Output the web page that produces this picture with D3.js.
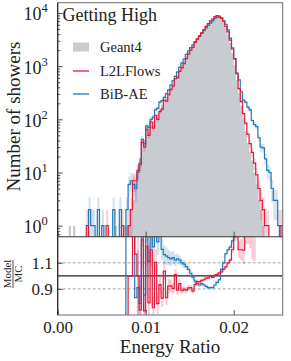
<!DOCTYPE html>
<html>
<head>
<meta charset="utf-8">
<script src="https://cdn.jsdelivr.net/npm/d3@7"></script>
<style>
  body { margin: 0; background: #fff; }
  svg text { font-family: "Liberation Serif", "Times New Roman", serif; fill: #222; }
</style>
</head>
<body>
<div id="chart"></div>
<script>
// histogram binning (energy ratio)
var binStart = 0,
	binWidth = 0.00025;

// counts per bin
var geant4 = [
	0, 0, 0, 0, 0, 1, 0, 1, 0, 0,
	0, 0, 0, 0, 0, 0, 0, 0, 0, 0,
	0, 0, 0, 0, 0, 0, 1, 0, 0, 0,
	1, 1, 1, 2, 3, 6, 11, 19, 29, 41,
	53, 63, 75, 90, 107, 127, 150, 187, 222, 264,
	315, 390, 465, 575, 685, 850, 1050, 1250, 1550, 1850,
	2200, 2550, 3000, 3400, 3900, 4400, 5000, 5700, 6400, 7100,
	7800, 8500, 8800, 8500, 7700, 6500, 5200, 4000, 2750, 1750,
	1050, 550, 315, 180, 107, 61, 36, 24, 17, 10,
	6, 3, 2, 1, 0, 0, 0, 0, 0, 0,
	0, 0, 0
];
var l2lflows = [
	0, 0, 0, 0, 0, 0, 0, 0, 0, 0,
	0, 0, 0, 1, 0, 0, 0, 0, 0, 0,
	0, 0, 1, 0, 0, 0, 0, 0, 0, 1,
	0, 0, 1, 2, 7, 7, 11, 14, 37, 30,
	65, 50, 90, 68, 118, 100, 140, 155, 230, 220,
	290, 360, 420, 580, 610, 800, 930, 1120, 1380, 1680,
	2000, 2250, 2800, 3250, 3720, 4250, 4850, 5600, 6300, 7100,
	7700, 8550, 8900, 8700, 7930, 6830, 5560, 4400, 3080, 2100,
	1365, 726, 378, 216, 128, 85, 52, 35, 24, 15,
	9, 5, 3, 2, 1, 1, 0, 0, 0, 0,
	0, 1, 0
];
var bibae = [
	0, 0, 0, 0, 0, 0, 0, 0, 0, 0,
	0, 0, 0, 0, 2, 1, 1, 0, 2, 0,
	1, 0, 0, 0, 0, 2, 0, 0, 2, 0,
	0, 2, 6, 7, 6, 5, 10, 15, 42, 35,
	75, 70, 100, 110, 150, 160, 210, 225, 258, 304,
	359, 441, 530, 644, 774, 952, 1155, 1363, 1659, 1943,
	2244, 2525, 2880, 3196, 3627, 4136, 4650, 5244, 5824, 6461,
	7098, 7905, 8360, 8245, 8085, 7150, 6080, 4800, 3355, 2220,
	1390, 740, 550, 330, 230, 210, 170, 150, 95, 80,
	73, 45, 30, 29, 18, 11, 10, 5, 3, 3,
	1, 0, 0
];

var legendLabels = ["Geant4", "L2LFlows", "BiB-AE"];
var xTickValues = [0, 0.01, 0.02];
var yTickExponents = [0, 1, 2, 3, 4];
var ratioTickValues = [0.9, 1.1];
var ratioGuides = [0.9, 1.0, 1.1];
var titleText = "Getting High";

var svgWidth = 291,
	svgHeight = 361,
	left = 57.7,
	right = 282.7,
	mainTop = 2.7,
	mainBottom = 236.7,
	ratioBottom = 315,
	colors = {
		geant4: "#c8cbcf",
		l2l: "#e41a3c",
		bib: "#2378b8"
	};

var svg = d3.select("#chart")
	.append("svg")
	.attr("width", svgWidth)
	.attr("height", svgHeight);

var x = d3.scaleLinear().domain([0, 0.02557]).range([left, right]);
var y = d3.scaleLog().domain([Math.pow(10, -0.207), Math.pow(10, 4.193)]).range([mainBottom, mainTop]);
var yr = d3.scaleLinear().domain([0.7, 1.3]).range([ratioBottom, mainBottom]);

var defs = svg.append("defs");
defs.append("clipPath").attr("id", "clipMain")
	.append("rect")
	.attr("x", left).attr("y", mainTop)
	.attr("width", right - left).attr("height", mainBottom - mainTop);
defs.append("clipPath").attr("id", "clipRatio")
	.append("rect")
	.attr("x", left).attr("y", mainBottom)
	.attr("width", right - left).attr("height", ratioBottom - mainBottom);

function edge(i) {
	return x(binStart + i * binWidth);
}

// step outline, null values break the line
function stepPath(vals, yf) {
	var p = "", prev = null, i, v, yy;
	for (i = 0; i < vals.length; ++i) {
		v = vals[i];
		if (v === null) {
			prev = null;
			continue;
		}
		yy = yf(v);
		if (prev === null) {
			p += "M" + edge(i) + "," + yy;
		} else {
			p += "V" + yy;
		}
		p += "H" + edge(i + 1);
		prev = yy;
	}
	return p;
}

function yMain(v) {
	return v > 0 ? y(v) : mainBottom + 10;
}

// ---------- main panel ----------
var mainG = svg.append("g").attr("clip-path", "url(#clipMain)");

mainG.append("path")
	.attr("d", stepPath(geant4, yMain) + "V" + (mainBottom + 10) + "H" + edge(0) + "Z")
	.style("fill", colors.geant4)
	.style("stroke", "none");

function bands(g, vals, color, op) {
	g.append("g").selectAll("rect")
		.data(vals.map(function(v, i) { return { v: v, i: i }; }).filter(function(d) { return d.v > 0; }))
		.enter()
		.append("rect")
		.attr("x", function(d) { return edge(d.i); })
		.attr("width", function(d) { return edge(d.i + 1) - edge(d.i); })
		.attr("y", function(d) { return y(d.v + Math.sqrt(d.v)); })
		.attr("height", function(d) {
			var lo = d.v - Math.sqrt(d.v);
			return (lo > 0 ? y(lo) : mainBottom + 10) - y(d.v + Math.sqrt(d.v));
		})
		.style("fill", color)
		.style("opacity", op);
}

bands(mainG, bibae, colors.bib, 0.2);
bands(mainG, l2lflows, colors.l2l, 0.2);

mainG.append("path")
	.attr("d", stepPath(bibae, yMain))
	.style("fill", "none")
	.style("stroke", colors.bib)
	.style("stroke-width", 1.2);
mainG.append("path")
	.attr("d", stepPath(l2lflows, yMain))
	.style("fill", "none")
	.style("stroke", colors.l2l)
	.style("stroke-width", 1.2);

// ---------- ratio panel ----------
var ratioG = svg.append("g").attr("clip-path", "url(#clipRatio)");

ratioGuides.forEach(function(r) {
	ratioG.append("line")
		.attr("x1", left).attr("x2", right)
		.attr("y1", yr(r)).attr("y2", yr(r))
		.style("stroke", r === 1 ? "#222" : "#999")
		.style("stroke-width", r === 1 ? 1.1 : 0.9)
		.style("stroke-dasharray", r === 1 ? null : "3,2");
});

function ratioOf(model) {
	return model.map(function(m, i) {
		return geant4[i] > 0 ? m / geant4[i] : null;
	});
}

// model stat. error only, for bins with enough entries
function ratioBands(vals, color) {
	var data = vals.map(function(m, i) {
		var g = geant4[i], r, e;
		if (g < 10 || m < 10) { return null; }
		r = m / g;
		e = Math.sqrt(m) / g;
		return { i: i, lo: r - e, hi: r + e };
	}).filter(function(d) { return d !== null; });
	ratioG.append("g").selectAll("rect")
		.data(data)
		.enter()
		.append("rect")
		.attr("x", function(d) { return edge(d.i); })
		.attr("width", function(d) { return edge(d.i + 1) - edge(d.i); })
		.attr("y", function(d) { return Math.max(yr(d.hi), mainBottom - 5); })
		.attr("height", function(d) {
			return Math.max(0, Math.min(yr(d.lo), ratioBottom + 5) - Math.max(yr(d.hi), mainBottom - 5));
		})
		.style("fill", color)
		.style("opacity", 0.22);
}

function yRatio(v) {
	return Math.max(Math.min(yr(v), ratioBottom + 10), mainBottom - 10);
}

ratioBands(bibae, colors.bib);
ratioBands(l2lflows, colors.l2l);

ratioG.append("path")
	.attr("d", stepPath(ratioOf(bibae), yRatio))
	.style("fill", "none")
	.style("stroke", colors.bib)
	.style("stroke-width", 1.2);
ratioG.append("path")
	.attr("d", stepPath(ratioOf(l2lflows), yRatio))
	.style("fill", "none")
	.style("stroke", colors.l2l)
	.style("stroke-width", 1.2);

// ---------- axes ----------
var minorY = [];
yTickExponents.concat([-1]).forEach(function(e) {
	for (var k = 2; k < 10; ++k) {
		var v = k * Math.pow(10, e);
		if (v > y.domain()[0] && v < y.domain()[1]) { minorY.push(v); }
	}
});

svg.append("g")
	.attr("transform", "translate(" + left + ",0)")
	.call(d3.axisLeft(y).tickValues(minorY).tickSize(-2.5).tickFormat(""))
	.call(function(g) { g.select(".domain").remove(); });

var yAxisG = svg.append("g")
	.attr("transform", "translate(" + left + ",0)")
	.call(d3.axisLeft(y)
		.tickValues(yTickExponents.map(function(e) { return Math.pow(10, e); }))
		.tickSize(-5)
		.tickFormat(""))
	.call(function(g) { g.select(".domain").remove(); });

yAxisG.selectAll(".tick text").remove();
yAxisG.selectAll(".tick").each(function(d) {
	var t = d3.select(this).append("text")
		.attr("x", -10)
		.attr("y", 7)
		.attr("text-anchor", "end")
		.style("font-size", "18px");
	t.append("tspan").text("10");
	t.append("tspan")
		.attr("dy", -8)
		.style("font-size", "12.5px")
		.text(Math.round(Math.log10(d)));
});

svg.append("g")
	.attr("transform", "translate(" + left + ",0)")
	.call(d3.axisLeft(yr).tickValues(ratioTickValues).tickSize(-5).tickPadding(5)
		.tickFormat(d3.format(".1f")))
	.call(function(g) {
		g.select(".domain").remove();
		g.selectAll("text").style("font-size", "17px").attr("dy", "0.34em");
	});

svg.append("g")
	.attr("transform", "translate(0," + ratioBottom + ")")
	.call(d3.axisBottom(x).tickValues(xTickValues).tickSize(-5).tickPadding(6)
		.tickFormat(d3.format(".2f")))
	.call(function(g) {
		g.select(".domain").remove();
		g.selectAll("text").style("font-size", "17px");
	});

svg.append("g")
	.attr("transform", "translate(0," + mainBottom + ")")
	.call(d3.axisBottom(x).tickValues(xTickValues).tickSize(-5).tickFormat(""))
	.call(function(g) { g.select(".domain").remove(); });

svg.selectAll(".tick line").style("stroke", "#222").style("stroke-width", 0.8);

// frames
svg.append("rect")
	.attr("x", left).attr("y", mainTop)
	.attr("width", right - left).attr("height", ratioBottom - mainTop)
	.style("fill", "none")
	.style("stroke", "#777")
	.style("stroke-width", 1.1);
svg.append("line")
	.attr("x1", left).attr("x2", left).attr("y1", mainTop).attr("y2", ratioBottom)
	.style("stroke", "#222").style("stroke-width", 1.1);
svg.append("line")
	.attr("x1", left).attr("x2", right).attr("y1", mainBottom).attr("y2", mainBottom)
	.style("stroke", "#333").style("stroke-width", 1.1);

// labels
svg.append("text")
	.attr("transform", "translate(20,116.5) rotate(-90)")
	.attr("text-anchor", "middle")
	.style("font-size", "19px")
	.text("Number of showers");

svg.append("text")
	.attr("x", 170)
	.attr("y", 353)
	.attr("text-anchor", "middle")
	.style("font-size", "19px")
	.text("Energy Ratio");

var frac = svg.append("g").attr("transform", "translate(13,274) rotate(-90)");
frac.append("text").attr("x", 0).attr("y", -2.5).attr("text-anchor", "middle")
	.style("font-size", "11px").text("Model");
frac.append("line").attr("x1", -14).attr("x2", 14).attr("y1", 0).attr("y2", 0)
	.style("stroke", "#222").style("stroke-width", 0.8);
frac.append("text").attr("x", 0).attr("y", 9).attr("text-anchor", "middle")
	.style("font-size", "11px").text("MC");

svg.append("text")
	.attr("x", 62.5)
	.attr("y", 21)
	.style("font-size", "18px")
	.text(titleText);

// legend
var legend = svg.append("g");
var rows = [47, 71, 94];
legend.append("rect")
	.attr("x", 73).attr("y", rows[0] - 4.5)
	.attr("width", 16).attr("height", 9)
	.style("fill", colors.geant4);
legend.append("line")
	.attr("x1", 73).attr("x2", 89).attr("y1", rows[1]).attr("y2", rows[1])
	.style("stroke", colors.l2l).style("stroke-width", 1.3);
legend.append("line")
	.attr("x1", 73).attr("x2", 89).attr("y1", rows[2]).attr("y2", rows[2])
	.style("stroke", colors.bib).style("stroke-width", 1.3);
legend.selectAll("text.lab")
	.data(legendLabels)
	.enter()
	.append("text")
	.attr("class", "lab")
	.attr("x", 100)
	.attr("y", function(d, i) { return rows[i] + 5; })
	.style("font-size", "14.5px")
	.text(function(d) { return d; });
</script>
</body>
</html>
